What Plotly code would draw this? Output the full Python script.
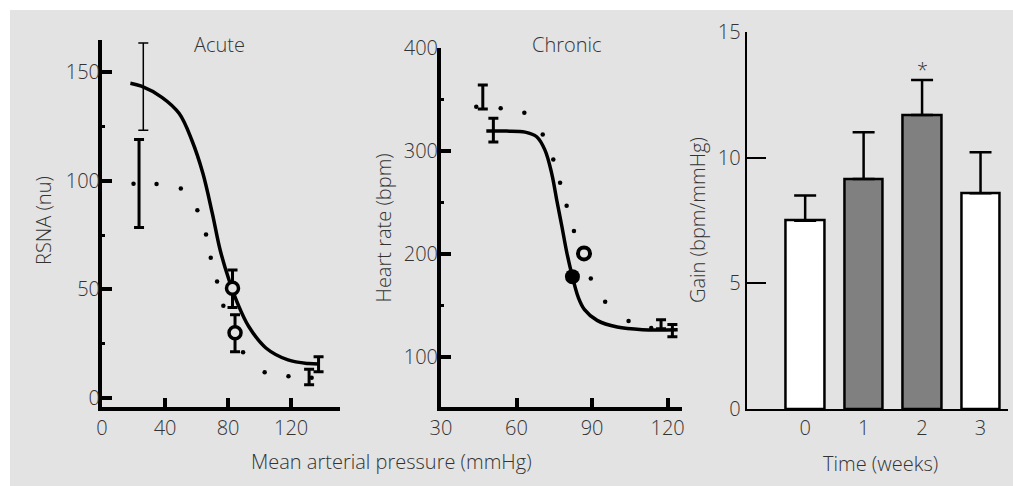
import plotly.graph_objects as go

W, H = 1013, 486

# ---------------- data ----------------
acute_fit_x = [18, 25, 38, 49, 57, 64, 70, 75, 80.6, 86, 93, 104, 118, 131, 138]
acute_fit_y = [145, 143.6, 138.5, 131, 118.7, 103.5, 85, 68, 54.3, 43.6, 33, 23, 17.5, 15.8, 15.6]

acute_dot_x = [20, 34.6, 50, 60.5, 66, 69, 73, 77, 89.5, 103.2, 118.3, 133]
acute_dot_y = [98.7, 98.5, 96.5, 86.5, 75.3, 64.6, 53.6, 42.4, 21, 11.8, 10, 9.3]

acute_thin_err_x = [26.2]
acute_thin_err_y = [143.4]
acute_thin_err = [20.1]

acute_err_x = [23.5, 82.8, 84.4, 137.4, 131.4]
acute_err_y = [98.8, 50.3, 29.8, 15.5, 9.6]
acute_err = [20.3, 8.6, 8.5, 3.5, 3.6]

acute_open_x = [82.8, 84.4]
acute_open_y = [50.5, 30.0]

chronic_fit_x = [48, 56, 63.4, 68, 71.3, 74, 76, 78, 80, 82.2, 84.5, 87, 92, 100, 110, 124]
chronic_fit_y = [319.6, 319.5, 318.5, 314, 301, 278, 252, 227, 201, 178, 158, 146, 135.5, 129, 126.5, 126.5]

chronic_dot_x = [44, 53.7, 63.1, 70.4, 74.6, 77.3, 79.9, 82.8, 89.5, 95.2, 104.5, 113.5]
chronic_dot_y = [343.2, 341.6, 337.4, 316.3, 292, 269.3, 246.9, 222.3, 176.3, 153.5, 135, 128]

chronic_err_x = [46.6, 50.8, 117.4, 121.9]
chronic_err_y = [352.7, 320.5, 131.8, 125.6]
chronic_err = [11.7, 11.5, 4.4, 6.0]

chronic_open_x = [86.8]
chronic_open_y = [200.6]
chronic_filled_x = [82.2]
chronic_filled_y = [178]

weeks = ["0", "1", "2", "3"]
gain = [7.5, 9.16, 11.71, 8.59]
gain_sem = [1.0, 1.86, 1.39, 1.63]
bar_colors = ["#ffffff", "#808080", "#808080", "#ffffff"]

acute_xticks = [0, 40, 80, 120]
acute_yticks = [0, 50, 100, 150]
chronic_xticks = [30, 60, 90, 120]
chronic_yticks = [100, 200, 300, 400]
gain_yticks = [0, 5, 10, 15]

# ---------------- helpers ----------------
def fx(px):
    return px / W

def fy(py):
    return 1 - py / H

TXT = "#333333"
FONT = "Open Sans"
FS = 20
FW = 300
BG = "#e3e3e3"

fig = go.Figure()

# Acute panel
fig.add_trace(go.Scatter(x=acute_fit_x, y=acute_fit_y, mode="lines", line=dict(color="black", width=3.5, shape="spline"),
                         xaxis="x", yaxis="y", hoverinfo="skip"))
fig.add_trace(go.Scatter(x=acute_dot_x, y=acute_dot_y, mode="markers", marker=dict(color="black", size=4.5),
                         xaxis="x", yaxis="y"))
fig.add_trace(go.Scatter(x=acute_thin_err_x, y=acute_thin_err_y, mode="markers", marker=dict(size=1, color="rgba(0,0,0,0)"),
                         error_y=dict(type="data", array=acute_thin_err, color="black", thickness=1.5, width=5),
                         xaxis="x", yaxis="y"))
fig.add_trace(go.Scatter(x=acute_err_x, y=acute_err_y, mode="markers", marker=dict(size=1, color="rgba(0,0,0,0)"),
                         error_y=dict(type="data", array=acute_err, color="black", thickness=3, width=5),
                         xaxis="x", yaxis="y"))
fig.add_trace(go.Scatter(x=acute_open_x, y=acute_open_y, mode="markers",
                         marker=dict(symbol="circle", size=12, color=BG, line=dict(color="black", width=3.5)),
                         xaxis="x", yaxis="y"))

# Chronic panel
fig.add_trace(go.Scatter(x=chronic_fit_x, y=chronic_fit_y, mode="lines", line=dict(color="black", width=3.5, shape="spline"),
                         xaxis="x2", yaxis="y2", hoverinfo="skip"))
fig.add_trace(go.Scatter(x=chronic_dot_x, y=chronic_dot_y, mode="markers", marker=dict(color="black", size=4.5),
                         xaxis="x2", yaxis="y2"))
fig.add_trace(go.Scatter(x=chronic_err_x, y=chronic_err_y, mode="markers", marker=dict(size=1, color="rgba(0,0,0,0)"),
                         error_y=dict(type="data", array=chronic_err, color="black", thickness=3, width=5),
                         xaxis="x2", yaxis="y2"))
fig.add_trace(go.Scatter(x=chronic_open_x, y=chronic_open_y, mode="markers",
                         marker=dict(symbol="circle", size=12, color=BG, line=dict(color="black", width=4)),
                         xaxis="x2", yaxis="y2"))
fig.add_trace(go.Scatter(x=chronic_filled_x, y=chronic_filled_y, mode="markers",
                         marker=dict(symbol="circle", size=15, color="black"),
                         xaxis="x2", yaxis="y2"))

# Gain bars
fig.add_trace(go.Bar(x=weeks, y=gain, width=0.66,
                     marker=dict(color=bar_colors, line=dict(color="black", width=2.5)),
                     error_y=dict(type="data", array=gain_sem, arrayminus=[0] * len(gain_sem), symmetric=False,
                                  color="black", thickness=2.5, width=11),
                     xaxis="x3", yaxis="y3"))

tfont = dict(family=FONT, size=FS, color=TXT, weight=FW)
line_axis = dict(showline=True, linecolor="black", showgrid=False, zeroline=False, ticks="inside",
                 automargin=False, tickcolor="black", tickfont=tfont)

fig.update_layout(
    width=W, height=H, margin=dict(l=0, r=0, t=0, b=0, pad=0, autoexpand=False),
    paper_bgcolor=BG, plot_bgcolor="rgba(0,0,0,0)", showlegend=False,
    bargap=0,
    shapes=[
        dict(type="rect", xref="paper", yref="paper", x0=0, x1=fx(10), y0=-0.05, y1=1.05,
             fillcolor="white", line=dict(width=0), layer="below"),
        dict(type="rect", xref="paper", yref="paper", x0=-0.05, x1=1.05, y0=fy(10), y1=1.05,
             fillcolor="white", line=dict(width=0), layer="below"),
    ],
    xaxis=dict(line_axis, domain=[fx(102), fx(340)], range=[0, 151], anchor="y", linewidth=4,
               tickvals=acute_xticks, ticklen=9, tickwidth=4),
    yaxis=dict(line_axis, domain=[fy(407), fy(40)], range=[-4.2, 164.9], anchor="x", linewidth=4,
               tickvals=acute_yticks, ticklen=10, tickwidth=4, ticklabelstandoff=-6,
               minor=dict(ticks="inside", dtick=25, tick0=0, ticklen=3, tickwidth=3, tickcolor="black")),
    xaxis2=dict(line_axis, domain=[fx(441), fx(681.7)], range=[30, 125.6], anchor="y2", linewidth=4,
                tickvals=chronic_xticks, ticklen=9, tickwidth=4),
    yaxis2=dict(line_axis, domain=[fy(407.3), fy(48.3)], range=[51, 400], anchor="x2", linewidth=4,
                tickvals=chronic_yticks, ticklen=10, tickwidth=4, ticklabelstandoff=-5,
                minor=dict(ticks="inside", dtick=50, tick0=0, ticklen=3, tickwidth=3, tickcolor="black")),
    xaxis3=dict(line_axis, domain=[fx(746.7), fx(1008)], range=[-1, 3.47], anchor="y3", linewidth=2,
                type="category", ticks=""),
    yaxis3=dict(line_axis, domain=[fy(409), fy(32.3)], range=[0, 15], anchor="x3", linewidth=2,
                tickvals=gain_yticks, ticklen=19, tickwidth=2),
)

def ann(text, x, y, **kw):
    d = dict(text=text, x=fx(x), y=fy(y), xref="paper", yref="paper", showarrow=False,
             xanchor="center", yanchor="middle", font=tfont)
    d.update(kw)
    return d

annotations = [
    ann("Acute", 219, 45),
    ann("Chronic", 566.7, 45),
    ann("Mean arterial pressure (mmHg)", 391.7, 461.7),
    ann("Time (weeks)", 880, 463),
    ann("RSNA (nu)", 43, 221, textangle=-90),
    ann("Heart rate (bpm)", 383, 228.5, textangle=-90),
    ann("Gain (bpm/mmHg)", 698, 220, textangle=-90),
    dict(text="*", x="2", y=13.5, xref="x3", yref="y3", showarrow=False, xanchor="center", yanchor="middle",
         font=tfont),
]
fig.update_layout(annotations=annotations)

fig.write_html("out.html")
